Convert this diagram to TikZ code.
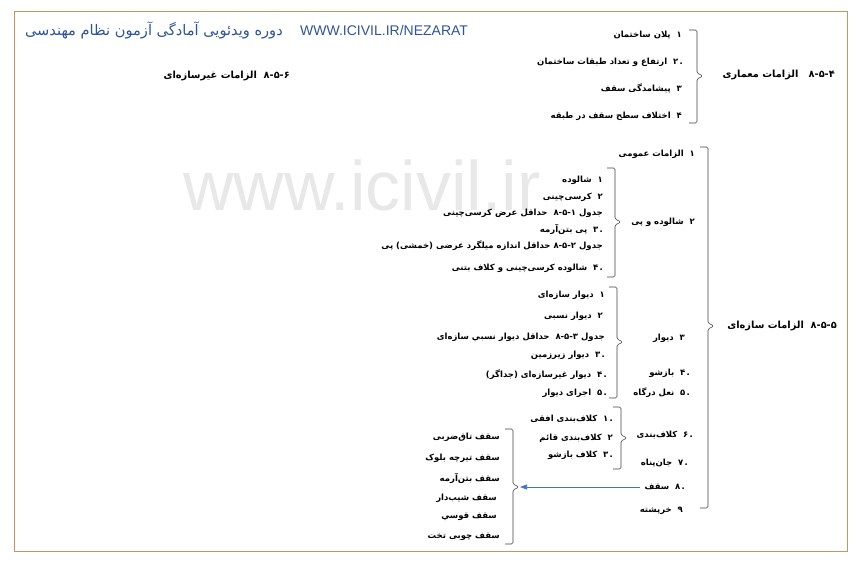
\documentclass[tikz,border=0pt]{standalone}
\usepackage{fontspec}
\setmainfont{Liberation Sans}
\newfontfamily\fa[Script=Arabic]{DejaVu Sans}
\TeXXeTstate=1
\usepackage{xcolor}
\usetikzlibrary{arrows.meta}
\definecolor{framebrown}{RGB}{200,148,96}
\definecolor{headblue}{RGB}{47,84,150}
\definecolor{arrowblue}{RGB}{68,114,196}

\tikzset{
  item/.style={anchor=east,inner sep=0pt,font=\fa\bfseries\fontsize{8.5}{10}\selectfont},
  heading/.style={item,font=\fa\bfseries\fontsize{9.8}{12}\selectfont},
  bracket/.style={draw=black!75,line width=0.6pt,rounded corners=1.5pt},
}
\newcommand{\rtl}[1]{\beginR #1\endR}
\newcommand{\mk}{.\kern1.2pt}
% brace: x, top, bottom, middle
\newcommand{\sbrace}[4]{%
  \draw[bracket] (#1-8,#2) -- (#1,#2) -- (#1,#4-3) -- (#1+6,#4) -- (#1,#4+3) -- (#1,#3) -- (#1-8,#3);}

\begin{document}
\begin{tikzpicture}[x=1pt,y=-1pt]
        \useasboundingbox (0,0) rectangle (862,562);
        \draw[framebrown,line width=0.9pt] (14,11) rectangle (847,551);

        % watermark
        \node[text=black!9,font=\fontsize{70}{76}\selectfont] (wm) at (362,185) {www.icivil.ir};

        % header
        \node[anchor=west,inner sep=0pt,text=headblue,font=\fontsize{14}{16}\selectfont] (url) at (300,30) {WWW.ICIVIL.IR/NEZARAT};
        \node[anchor=east,inner sep=0pt,text=headblue,font=\fa\fontsize{14.6}{17}\selectfont] (title) at (283,30) {\rtl{دوره ویدئویی آمادگی آزمون نظام مهندسی}};
        \node[heading] (nonstr) at (290,76) {\rtl{۸-۵-۶~ الزامات غیرسازه‌ای}};

        % 8-5-4 architectural
        \node[heading] (arch) at (835,75) {\rtl{۸-۵-۴~~ الزامات معماری}};
        \node[item] (a1) at (682,35) {\rtl{۱~ پلان ساختمان}};
        \node[item] (a2) at (683,62) {\rtl{\mk{}۲~ ارتفاع و تعداد طبقات ساختمان}};
        \node[item] (a3) at (682,89) {\rtl{۳~ پیشامدگی سقف}};
        \node[item] (a4) at (682,116) {\rtl{۴~ اختلاف سطح سقف در طبقه}};
        \sbrace{697}{30}{123}{76}

        % 8-5-5 structural
        \node[heading] (str) at (837,326) {\rtl{۸-۵-۵~ الزامات سازه‌ای}};
        \node[item] (m1) at (695,154) {\rtl{۱~ الزامات عمومی}};
        \node[item] (m2) at (695,222) {\rtl{۲~ شالوده و پی}};
        \node[item] (m3) at (685,338) {\rtl{۳~ دیوار}};
        \node[item] (m4) at (690,373) {\rtl{\mk{}۴~ بازشو}};
        \node[item] (m5) at (690,393) {\rtl{\mk{}۵~ نعل درگاه}};
        \node[item] (m6) at (693,435) {\rtl{\mk{}۶~ کلاف‌بندی}};
        \node[item] (m7) at (688,463) {\rtl{\mk{}۷~ جان‌پناه}};
        \node[item] (m8) at (685,487) {\rtl{\mk{}۸~ سقف}};
        \node[item] (m9) at (683,511) {\rtl{۹~ خرپشته}};
        \sbrace{708}{147}{508}{326}

        % foundation
        \node[item] (sh1) at (603,180) {\rtl{۱~ شالوده}};
        \node[item] (sh2) at (603,197) {\rtl{۲~ کرسی‌چینی}};
        \node[item] (sh3) at (603,213) {\rtl{جدول ۸-۵-۱~ حداقل عرض کرسی‌چینی}};
        \node[item] (sh4) at (603,229) {\rtl{\mk{}۳~ پی بتن‌آرمه}};
        \node[item] (sh5) at (603,246) {\rtl{جدول ۸-۵-۲ حداقل اندازه میلگرد عرضی (خمشی) پی}};
        \node[item] (sh6) at (603,268) {\rtl{\mk{}۴~ شالوده کرسی‌چینی و کلاف بتنی}};
        \sbrace{615}{168}{277}{222}

        % walls
        \node[item] (d1) at (605,295) {\rtl{۱~ دیوار سازه‌ای}};
        \node[item] (d2) at (603,316) {\rtl{۲~ دیوار نسبی}};
        \node[item] (d3) at (605,337) {\rtl{جدول ۸-۵-۳~ حداقل دیوار نسبي سازه‌ای}};
        \node[item] (d4) at (605,355) {\rtl{\mk{}۳~ دیوار زیرزمین}};
        \node[item] (d5) at (607,375) {\rtl{\mk{}۴~ دیوار غیرسازه‌ای (جداگر)}};
        \node[item] (d6) at (607,393) {\rtl{\mk{}۵~ اجرای دیوار}};
        \sbrace{617}{287}{398}{342}

        % ties
        \node[item] (k1) at (613,419) {\rtl{\mk{}۱~ کلاف‌بندی افقی}};
        \node[item] (k2) at (613,438) {\rtl{۲~ کلاف‌بندی قائم}};
        \node[item] (k3) at (613,455) {\rtl{\mk{}۳~ کلاف بازشو}};
        \sbrace{621}{407}{469}{438}

        % roofs
        \node[item] (s1) at (500,437) {\rtl{سقف تاق‌ضربی}};
        \node[item] (s2) at (500,458) {\rtl{سقف تیرچه بلوک}};
        \node[item] (s3) at (500,478) {\rtl{سقف بتن‌آرمه}};
        \node[item] (s4) at (497,498) {\rtl{سقف شیب‌دار}};
        \node[item] (s5) at (497,517) {\rtl{سقف قوسي}};
        \node[item] (s6) at (500,537) {\rtl{سقف چوبی تخت}};
        \sbrace{513}{429}{544}{487}
        \coordinate (roofTip) at (520,487);
        \draw[arrowblue,line width=0.7pt,-{Triangle[length=7pt,width=5pt]}] ([xshift=-4pt]m8.west) -- (roofTip);
\end{tikzpicture}
\end{document}
